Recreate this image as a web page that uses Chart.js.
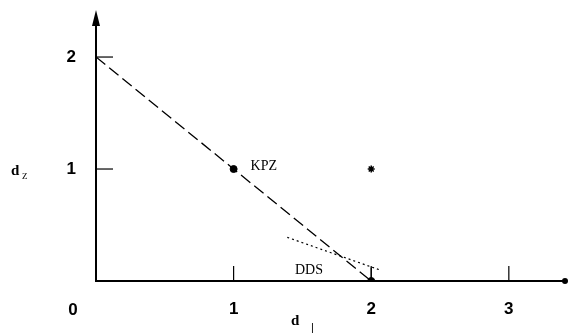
<!DOCTYPE html>
<html>
<head>
<meta charset="utf-8">
<script src="https://cdn.jsdelivr.net/npm/chart.js@4.4.0/dist/chart.umd.min.js"></script>
<style>
  html, body { margin: 0; padding: 0; background: #fff; }
  #wrap { width: 568px; height: 334px; }
</style>
</head>
<body>
<div id="wrap"><canvas id="myChart" width="568" height="334"></canvas></div>
<script>
// tick values
const xTicks = [1, 2, 3];
const yTicks = [1, 2];

// named points
const kpzPoint = [{ x: 1, y: 1 }];
const ddsPoint = [{ x: 2, y: 0 }];
const starPoint = [{ x: 2, y: 1 }];

// lines
const dashedLine = [{ x: 0, y: 2 }, { x: 2, y: 0 }];
const dottedLine = [{ x: 1.39, y: 0.39 }, { x: 2.06, y: 0.1 }];
const smallMark = [{ x: 2.0, y: 0.02 }, { x: 2.0, y: 0.12 }];

const tickFont = { family: "Liberation Sans, Arial", size: 17, weight: "bold" };

// draws axes with arrow, tick marks and the extra labels
const axesPlugin = {
  id: "axesPlugin",
  afterDraw(chart) {
    const ctx = chart.ctx;
    const xs = chart.scales.x;
    const ys = chart.scales.y;
    const x0 = xs.getPixelForValue(0);
    const y0 = ys.getPixelForValue(0);
    const top = chart.chartArea.top;
    const xEnd = 565;
    ctx.save();
    ctx.strokeStyle = "#000";
    ctx.fillStyle = "#000";
    ctx.lineWidth = 2;
    ctx.beginPath();
    ctx.moveTo(x0, top + 10);
    ctx.lineTo(x0, y0);
    ctx.lineTo(xEnd, y0);
    ctx.stroke();
    // arrow on y
    ctx.beginPath();
    ctx.moveTo(x0, top);
    ctx.lineTo(x0 - 4, top + 16);
    ctx.lineTo(x0 + 4, top + 16);
    ctx.closePath();
    ctx.fill();
    // dot at end of x
    ctx.beginPath();
    ctx.arc(xEnd, y0, 3, 0, Math.PI * 2);
    ctx.fill();
    // tick marks
    ctx.lineWidth = 1.2;
    yTicks.forEach(v => {
      const py = ys.getPixelForValue(v);
      ctx.beginPath();
      ctx.moveTo(x0, py);
      ctx.lineTo(x0 + 17, py);
      ctx.stroke();
    });
    xTicks.forEach(v => {
      const px = xs.getPixelForValue(v);
      ctx.beginPath();
      ctx.moveTo(px, y0);
      ctx.lineTo(px, y0 - 15);
      ctx.stroke();
    });
    // origin label
    ctx.font = "bold 17px Liberation Sans, Arial";
    ctx.textAlign = "center";
    ctx.textBaseline = "middle";
    ctx.fillText("0", 73, 310);
    // axis titles
    ctx.font = "bold 15px Liberation Serif, serif";
    ctx.textAlign = "left";
    ctx.fillText("d", 291, 321);
    ctx.font = "11px Liberation Sans, Arial";
    ctx.fillText("|", 311, 328);
    ctx.font = "bold 15px Liberation Serif, serif";
    ctx.fillText("d", 11, 171);
    ctx.font = "9px Liberation Serif, serif";
    ctx.fillText("Z", 22, 177);
    // point labels
    ctx.font = "14px Liberation Serif, serif";
    ctx.fillText("KPZ", xs.getPixelForValue(1) + 17, ys.getPixelForValue(1) - 3);
    ctx.fillText("DDS", 295, 270);
    ctx.restore();
  }
};

const ctx = document.getElementById("myChart").getContext("2d");
new Chart(ctx, {
  type: "scatter",
  data: {
    datasets: [
      {
        data: dashedLine,
        showLine: true,
        borderColor: "#000",
        borderWidth: 1.3,
        borderDash: [12, 5],
        pointRadius: 0
      },
      {
        data: dottedLine,
        showLine: true,
        borderColor: "#000",
        borderWidth: 1.2,
        borderDash: [2, 3],
        pointRadius: 0
      },
      {
        data: smallMark,
        showLine: true,
        borderColor: "#000",
        borderWidth: 1.2,
        pointRadius: 0
      },
      {
        data: kpzPoint,
        backgroundColor: "#000",
        borderColor: "#000",
        pointRadius: 3.5
      },
      {
        data: ddsPoint,
        backgroundColor: "#000",
        borderColor: "#000",
        pointRadius: 3.5
      },
      {
        data: starPoint,
        pointStyle: "star",
        borderColor: "#000",
        borderWidth: 1.5,
        pointRadius: 3.5
      }
    ]
  },
  options: {
    responsive: false,
    animation: false,
    layout: { padding: { top: 10, right: 0, left: 0, bottom: 0 } },
    plugins: { legend: { display: false }, tooltip: { enabled: false } },
    scales: {
      x: {
        type: "linear",
        min: 0,
        max: 3.39,
        grid: { display: false, drawTicks: false },
        border: { display: false },
        afterBuildTicks: s => { s.ticks = xTicks.map(v => ({ value: v })); },
        afterFit: s => { s.height = 53; s.paddingLeft = 0; s.paddingRight = 0; },
        ticks: { font: tickFont, color: "#000", padding: 18, maxRotation: 0 }
      },
      y: {
        type: "linear",
        min: 0,
        max: 2.42,
        grid: { display: false, drawTicks: false },
        border: { display: false },
        afterBuildTicks: s => { s.ticks = yTicks.map(v => ({ value: v })); },
        afterFit: s => { s.width = 96; s.paddingTop = 0; s.paddingBottom = 0; },
        ticks: { font: tickFont, color: "#000", padding: 20 }
      }
    }
  },
  plugins: [axesPlugin]
});
</script>
</body>
</html>
